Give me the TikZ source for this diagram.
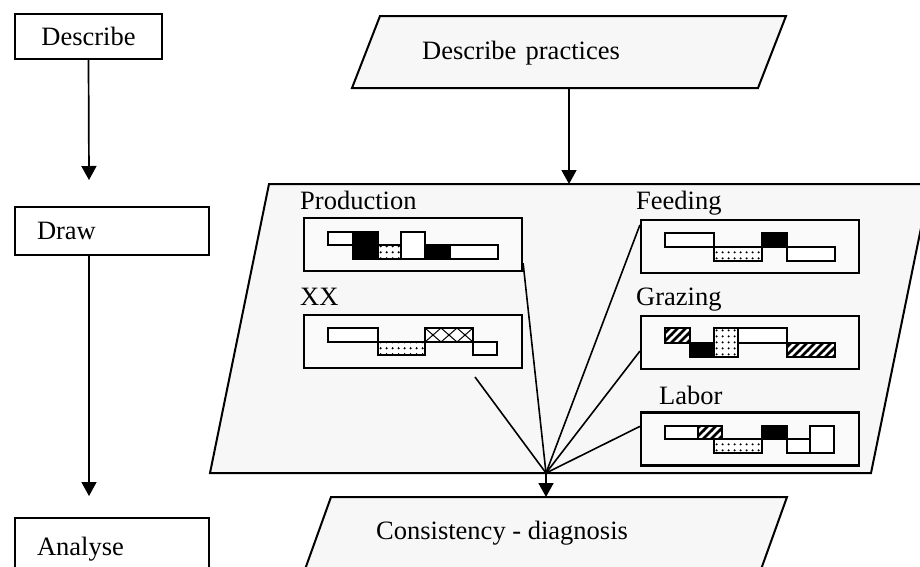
\documentclass[tikz,border=0pt]{standalone}
\usepackage{fontspec}
\setmainfont{Liberation Serif}
\usetikzlibrary{arrows.meta,patterns,calc}
\pgfdeclarepatternformonly{mydots}{\pgfqpoint{0pt}{0pt}}{\pgfqpoint{6pt}{6pt}}{\pgfqpoint{6pt}{6pt}}{\pgfpathcircle{\pgfqpoint{3pt}{3pt}}{1.3pt}\pgfusepath{fill}}
\pgfdeclarepatternformonly{myhatch}{\pgfqpoint{-1pt}{-1pt}}{\pgfqpoint{9pt}{9pt}}{\pgfqpoint{8pt}{8pt}}{\pgfsetlinewidth{2.8pt}\pgfpathmoveto{\pgfqpoint{-1pt}{-1pt}}\pgfpathlineto{\pgfqpoint{9pt}{9pt}}\pgfusepath{stroke}}
\begin{document}
\begin{tikzpicture}[x=1pt,y=-1pt,
  box/.style={draw,line width=2pt,inner sep=0pt,font=\fontsize{26.5}{30}\selectfont},
  para/.style={draw,line width=2pt,fill=black!3},
  bar/.style={draw,line width=2pt},
  dotbar/.style={bar,preaction={fill=white},pattern=mydots},
  hatchbar/.style={bar,preaction={fill=white},pattern=myhatch},
  arr/.style={line width=1.7pt,-{Triangle[length=14pt,width=15pt]}},
  lbl/.style={font=\fontsize{26.5}{30}\selectfont,inner sep=0pt,anchor=base west},
  minibox/.style={draw,line width=2.2pt,fill=black!2,minimum width=218pt,minimum height=53pt,inner sep=0pt},
  conn/.style={line width=1.6pt}]
\useasboundingbox (0,0) rectangle (920,566);
\clip (0,0) rectangle (920,566);
\fill[white] (0,0) rectangle (920,566);

% left column
\node[box,minimum width=147pt,minimum height=45pt] (describe) at (88.5,36) {Describe};
\node[box,minimum height=48pt,text width=150pt,inner xsep=22pt,align=left] (drawbox) at (112,231) {Draw};
\node[box,minimum height=62pt,text width=150pt,inner xsep=22pt,align=left] (analyse) at (112,549) {Analyse};
\coordinate (a1) at (89,180);
\coordinate (a2) at (89,496);
\draw[arr] (describe.south) -- (a1);
\draw[arr] (drawbox.south -| a2) -- (a2);

% describe practices
\draw[para] (380,16) -- (786,16) -- (758,88) -- (352,88) -- cycle;
\node[lbl] (dp) at (422,59) {Describe\hspace{0.1em} practices};
\coordinate (dpb) at (569,88);

% big parallelogram
\draw[para] (269,184) -- (930,184) -- (871,473) -- (210,473) -- cycle;
\coordinate (bigtop) at (569,184);
\draw[arr] (dpb) -- (bigtop);

% consistency
\draw[para] (331,497) -- (787,497) -- (750,600) -- (294,600) -- cycle;
\node[lbl] (cd) at (376,539) {Consistency - diagnosis};

% labels
\node[lbl] (lprod) at (300,209) {Production};
\node[lbl] (lxx) at (300,305) {XX};
\node[lbl] (lfeed) at (636,209) {Feeding};
\node[lbl] (lgraz) at (636,305) {Grazing};
\node[lbl] (llab) at (659,404) {Labor};

% mini boxes
\node[minibox] (prod) at (413,244.5) {};
\node[minibox] (xx) at (413,341.5) {};
\node[minibox] (feed) at (750,246.5) {};
\node[minibox] (graz) at (750,342.5) {};
\node[minibox] (labor) at (750,439) {};

% production chart
\draw[bar,fill=white] (328,232) rectangle (353,245);
\draw[bar,fill=black] (353,232) rectangle (378,259);
\draw[dotbar] (378,245) rectangle (401,259);
\draw[bar,fill=white] (401,232) rectangle (425,259);
\draw[bar,fill=black] (425,245) rectangle (450,259);
\draw[bar,fill=white] (450,245) rectangle (498,259);

% xx chart
\draw[bar,fill=white] (328,328) rectangle (378,342);
\draw[dotbar] (378,342) rectangle (425,355);
\draw[bar,fill=white] (425,328) rectangle (473,342);
\foreach \i in {0,1,2}{
  \draw[line width=1pt] (425+16*\i,328) -- (441+16*\i,342);
  \draw[line width=1pt] (441+16*\i,328) -- (425+16*\i,342);
}
\draw[bar] (425,328) rectangle (473,342);
\draw[bar,fill=white] (473,342) rectangle (497,355);

% feeding chart
\draw[bar,fill=white] (665,233) rectangle (714,247);
\draw[dotbar] (714,247) rectangle (762,261);
\draw[bar,fill=black] (762,233) rectangle (787,247);
\draw[bar,fill=white] (787,247) rectangle (835,261);

% grazing chart
\draw[hatchbar] (665,328) rectangle (690,343);
\draw[bar,fill=black] (690,343) rectangle (714,357);
\draw[dotbar] (714,328) rectangle (738,357);
\draw[bar,fill=white] (738,328) rectangle (787,343);
\draw[hatchbar] (787,343) rectangle (835,357);

% labor chart
\draw[bar,fill=white] (665,426) rectangle (698,439);
\draw[dotbar] (714,439) rectangle (762,453);
\draw[hatchbar] (698,426) rectangle (722,439);
\draw[bar,fill=black] (762,426) rectangle (787,439);
\draw[bar,fill=white] (787,439) rectangle (810,453);
\draw[bar,fill=white] (810,426) rectangle (834,453);

% connectors
\coordinate (hub) at (546,473);
\coordinate (xxs) at (475,377);
\coordinate (constop) at (546,497);
\draw[conn] ($(prod.south east)+(0,-9)$) -- (hub);
\draw[conn] (xxs) -- (hub);
\draw[conn] ($(feed.north west)+(0,6)$) -- (hub);
\draw[conn] ($(graz.south west)+(0,-19)$) -- (hub);
\draw[conn] ($(labor.north west)+(0,15)$) -- (hub);
\draw[arr] (hub) -- (constop);
\end{tikzpicture}
\end{document}
